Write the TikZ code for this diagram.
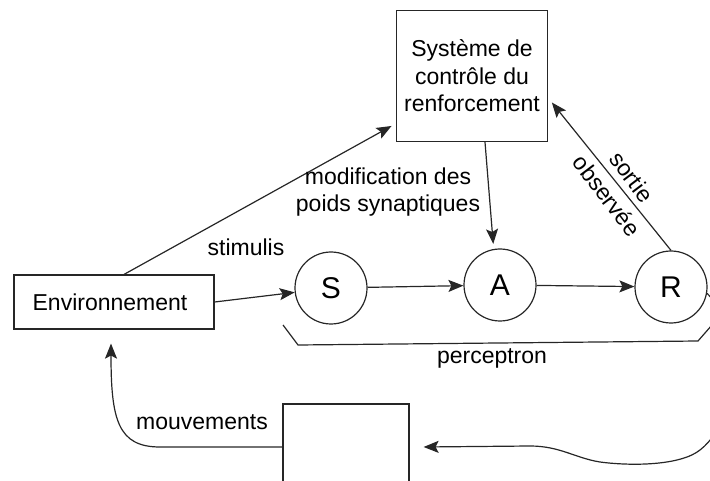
\documentclass[tikz,border=0pt]{standalone}
\usepackage{fontspec}
\setmainfont{Liberation Sans}
\usetikzlibrary{arrows.meta}

\begin{document}
\begin{tikzpicture}[x=1pt,y=-1pt,
  line width=1.2pt, draw=black!85,
  every node/.style={font=\fontsize{23}{27.5}\selectfont},
  bloc/.style={draw, rectangle, inner sep=0pt, align=center},
  neurone/.style={draw, circle, minimum size=72pt, inner sep=0pt,
    font=\fontsize{30}{30}\selectfont},
  fleche/.style={-{Stealth[length=15pt,width=12pt,inset=3pt]}}]

  \useasboundingbox (0,0) rectangle (710,481);
  \clip (0,0) rectangle (710,481);

  \node[bloc, minimum width=200pt, minimum height=54pt] (env) at (114,302) {Environnement\hspace{8pt}};
  \node[bloc, minimum width=151pt, minimum height=131pt] (sys) at (472,76)
    {Système de\\contrôle du\\renforcement};
  \node[bloc, minimum width=126pt, minimum height=86pt] (moteur) at (346,447) {};

  \node[neurone] (S) at (331,288) {S};
  \node[neurone] (A) at (500,285) {A};
  \node[neurone] (R) at (671,287) {R};

  \draw[fleche] (env.east) -- (S);
  \draw[fleche] (S) -- (A);
  \draw[fleche] (A) -- (R);
  \draw[fleche, shorten >=5pt] (env.70) -- (sys.212);
  \draw[fleche, shorten >=5pt] ([xshift=13pt]sys.south) -- (A.100);
  \draw[fleche, shorten >=6pt] (R.north) -- (sys.-16)
    node[pos=0.42, rotate=-53, align=center,
      font=\fontsize{23}{31}\selectfont] {sortie\\observée};

  \draw[fleche] (R.-10) .. controls (735,320) and (745,415) .. (700,450)
    .. controls (680,466) and (630,466) .. (600,462)
    .. controls (575,458) and (560,446) .. (530,446)
    -- ([xshift=14pt]moteur.east);
  \draw[fleche] (moteur.west) -- (160,447)
    .. controls (118,447) and (111,420) .. ([shift={(-3pt,-14pt)}]env.south);

  \draw (283,325) -- (298,345) -- (698,341) -- (712,325);

  \node[align=center] (poids) at (388,192) {modification des\\poids synaptiques};
  \node (stim) at (246,247) {stimulis};
  \node (perc) at (492,358) {perceptron};
  \node (mouv) at (202,422) {mouvements};
\end{tikzpicture}
\end{document}
